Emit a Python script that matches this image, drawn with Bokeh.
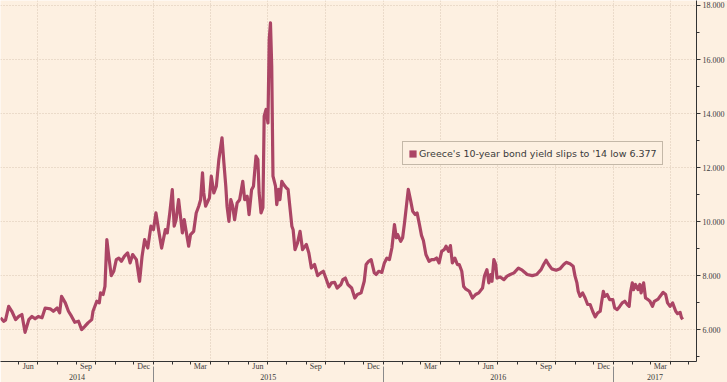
import pandas as pd
from bokeh.plotting import figure
from bokeh.models import (Range1d, FixedTicker, LinearAxis, NumeralTickFormatter,
                          Legend, LegendItem, Label, ColumnDataSource, Grid)
from bokeh.embed import file_html
from bokeh.resources import INLINE

# ---------------- data ----------------
dates = [
    "2014-05-03", "2014-05-08", "2014-05-11", "2014-05-16", "2014-05-21", "2014-05-27",
    "2014-06-01", "2014-06-06", "2014-06-11", "2014-06-17", "2014-06-22", "2014-06-27",
    "2014-07-02", "2014-07-08", "2014-07-13", "2014-07-21", "2014-07-26", "2014-08-01",
    "2014-08-05", "2014-08-08", "2014-08-14", "2014-08-19", "2014-08-24", "2014-08-29",
    "2014-09-04", "2014-09-09", "2014-09-14", "2014-09-19", "2014-09-25", "2014-09-27",
    "2014-10-03", "2014-10-07", "2014-10-09", "2014-10-13", "2014-10-16", "2014-10-19",
    "2014-10-22", "2014-10-26", "2014-10-30", "2014-11-03", "2014-11-07", "2014-11-11",
    "2014-11-16", "2014-11-21", "2014-11-25", "2014-11-29", "2014-12-05", "2014-12-10",
    "2014-12-14", "2014-12-18", "2014-12-23", "2014-12-28",
    "2015-01-01", "2015-01-05", "2015-01-10", "2015-01-14", "2015-01-20", "2015-01-23",
    "2015-01-27", "2015-01-31", "2015-02-03", "2015-02-06", "2015-02-10", "2015-02-13",
    "2015-02-16", "2015-02-19", "2015-02-22", "2015-02-26", "2015-03-01", "2015-03-06",
    "2015-03-10", "2015-03-14", "2015-03-17", "2015-03-20", "2015-03-22", "2015-03-25",
    "2015-03-31", "2015-04-03", "2015-04-07", "2015-04-11", "2015-04-15", "2015-04-20",
    "2015-04-23", "2015-04-26", "2015-04-28", "2015-05-01", "2015-05-04", "2015-05-07",
    "2015-05-10", "2015-05-14", "2015-05-18", "2015-05-23", "2015-05-26", "2015-05-30",
    "2015-06-02", "2015-06-06", "2015-06-09", "2015-06-13", "2015-06-16", "2015-06-18",
    "2015-06-21", "2015-06-24", "2015-06-26", "2015-06-29", "2015-07-02", "2015-07-04",
    "2015-07-06", "2015-07-08", "2015-07-10", "2015-07-14", "2015-07-16", "2015-07-19",
    "2015-07-21", "2015-07-24", "2015-07-27", "2015-07-31", "2015-08-03", "2015-08-09",
    "2015-08-11", "2015-08-14", "2015-08-18", "2015-08-22", "2015-08-26", "2015-08-30",
    "2015-09-01", "2015-09-05", "2015-09-09", "2015-09-14", "2015-09-19", "2015-09-24",
    "2015-09-28", "2015-10-02", "2015-10-07", "2015-10-11", "2015-10-16", "2015-10-20",
    "2015-10-26", "2015-10-29", "2015-11-02", "2015-11-06", "2015-11-12", "2015-11-17",
    "2015-11-21", "2015-11-27", "2015-12-02", "2015-12-05", "2015-12-09", "2015-12-13",
    "2015-12-18", "2015-12-21", "2015-12-25", "2015-12-30",
    "2016-01-03", "2016-01-07", "2016-01-11", "2016-01-15", "2016-01-19", "2016-01-22",
    "2016-01-24", "2016-01-29", "2016-02-01", "2016-02-04", "2016-02-07", "2016-02-10",
    "2016-02-14", "2016-02-17", "2016-02-21", "2016-02-24", "2016-02-28", "2016-03-02",
    "2016-03-05", "2016-03-09", "2016-03-14", "2016-03-18", "2016-03-22", "2016-03-26",
    "2016-03-30", "2016-04-03", "2016-04-07", "2016-04-10", "2016-04-14", "2016-04-17",
    "2016-04-20", "2016-04-24", "2016-04-28", "2016-05-01", "2016-05-05", "2016-05-08",
    "2016-05-11", "2016-05-17", "2016-05-22", "2016-05-27", "2016-06-01", "2016-06-07",
    "2016-06-10", "2016-06-14", "2016-06-17", "2016-06-20", "2016-06-22", "2016-06-25",
    "2016-06-28", "2016-06-30", "2016-07-05", "2016-07-11", "2016-07-16", "2016-07-21",
    "2016-07-27", "2016-08-03", "2016-08-09", "2016-08-17", "2016-08-25", "2016-09-01",
    "2016-09-08", "2016-09-12", "2016-09-16", "2016-09-20", "2016-09-25", "2016-10-02",
    "2016-10-08", "2016-10-14", "2016-10-18", "2016-10-24", "2016-10-29", "2016-11-01",
    "2016-11-04", "2016-11-06", "2016-11-09", "2016-11-13", "2016-11-17", "2016-11-21",
    "2016-11-25", "2016-11-29", "2016-12-03", "2016-12-07", "2016-12-11", "2016-12-13",
    "2016-12-16", "2016-12-18", "2016-12-22", "2016-12-26", "2016-12-31",
    "2017-01-03", "2017-01-07", "2017-01-11", "2017-01-15", "2017-01-19", "2017-01-23",
    "2017-01-26", "2017-01-28", "2017-01-31", "2017-02-02", "2017-02-05", "2017-02-09",
    "2017-02-12", "2017-02-14", "2017-02-18", "2017-02-21", "2017-02-25", "2017-02-28",
    "2017-03-04", "2017-03-07", "2017-03-13", "2017-03-16", "2017-03-21", "2017-03-25",
    "2017-03-28", "2017-04-01", "2017-04-05", "2017-04-10", "2017-04-13", "2017-04-17",
    "2017-04-19", "2017-04-21",
]
yields = [
    6.44, 6.31, 6.35, 6.86, 6.68, 6.37,
    6.49, 6.56, 5.90, 6.37, 6.49, 6.40,
    6.49, 6.44, 6.80, 6.77, 6.68, 6.80,
    6.62, 7.23, 6.99, 6.68, 6.49, 6.27,
    6.31, 6.00, 6.12, 6.25, 6.37, 6.68,
    7.05, 6.99, 7.36, 7.30, 7.60, 9.33,
    8.72, 8.00, 8.16, 8.59, 8.65, 8.53,
    8.72, 8.84, 8.47, 8.78, 8.59, 7.79,
    8.72, 9.33, 9.02, 9.83,
    9.70, 10.32, 9.58, 9.02, 9.70, 9.58,
    10.32, 11.18, 9.83, 10.07, 10.81, 10.20,
    9.58, 10.07, 9.64, 9.09, 9.52, 9.64,
    10.32, 10.57, 10.81, 11.80, 11.06, 10.57,
    10.88, 11.68, 11.06, 11.31, 12.30, 13.10,
    12.17, 11.31, 10.57, 10.01, 10.81, 10.57,
    10.07, 10.69, 10.81, 11.49, 10.81, 10.94,
    10.26, 11.18, 11.31, 12.42, 12.30, 11.06,
    10.32, 10.51, 13.90, 14.15, 13.65, 16.74,
    17.36, 15.75, 11.68, 11.31, 10.63, 11.19,
    10.81, 11.49, 11.37, 11.25, 11.19, 9.83,
    9.70, 8.96, 9.21, 9.64, 8.96, 9.09,
    9.15, 8.84, 8.28, 8.41, 8.00, 8.10,
    8.16, 7.91, 7.58, 7.73, 7.75, 7.54,
    7.67, 7.85, 7.91, 7.67, 7.54, 7.17,
    7.30, 7.36, 7.79, 8.41, 8.53, 8.59,
    8.10, 8.04, 8.16, 8.12,
    8.47, 8.65, 8.59, 9.03, 9.89, 9.40,
    9.52, 9.27, 9.40, 9.95, 10.57, 11.19,
    10.75, 10.38, 10.26, 10.32, 9.86, 9.49,
    9.30, 8.78, 8.53, 8.59, 8.59, 8.65,
    8.47, 8.90, 8.96, 9.09, 8.90, 9.11,
    8.47, 8.65, 8.41, 8.41, 8.16, 7.60,
    7.51, 7.42, 7.17, 7.30, 7.36, 7.54,
    7.98, 8.22, 7.73, 8.04, 7.79, 8.59,
    8.41, 7.91, 7.95, 7.85, 7.98, 8.04,
    8.10, 8.28, 8.20, 8.04, 8.00, 8.04,
    8.22, 8.41, 8.57, 8.41, 8.25, 8.20,
    8.25, 8.41, 8.49, 8.44, 8.35, 7.98,
    7.73, 7.42, 7.23, 7.36, 7.17, 6.93,
    6.93, 6.68, 6.47, 6.62, 6.68, 6.99,
    7.42, 7.23, 7.30, 7.11, 7.11,
    6.80, 6.74, 6.86, 6.99, 7.05, 6.93,
    6.86, 7.36, 7.73, 7.48, 7.67, 7.48,
    7.67, 7.36, 7.73, 7.17, 7.11, 7.05,
    6.86, 7.05, 7.13, 7.23, 7.38, 7.30,
    6.99, 6.86, 6.99, 6.68, 6.59, 6.64,
    6.45, 6.377,
]
last_label = "6.377"
legend_label = "Greece's 10-year bond yield slips to '14 low 6.377"
x_start, x_end = "2014-05-03", "2017-05-13"
y_ticks = [6, 8, 10, 12, 14, 16, 18]
y_minor = [5, 7, 9, 11, 13, 15, 17]
month_labels = {6: "Jun", 9: "Sep", 12: "Dec", 3: "Mar"}
years = [2014, 2015, 2016, 2017]

# ---------------- styles ----------------
BG = "#FDF0E1"
LINE = "#AB4565"
AXIS = "#333333"
TXT = "#3a3a3a"
GRID = "#d8c6b2"
SERIF = "Liberation Serif"


def ms(t):
    return int(pd.Timestamp(t).value // 10**6)


x0, x1 = ms(x_start), ms(x_end)
month_starts = pd.date_range("2014-05-01", "2017-06-01", freq="MS")
month_ticks = [ms(m) for m in month_starts if x0 <= ms(m) <= x1]
label_ticks, month_over = [], {}
for m in month_starts[:-1]:
    if m.month in month_labels:
        mid = (ms(m) + ms(m + pd.offsets.MonthBegin(1))) // 2
        if x0 <= mid <= x1:
            label_ticks.append(mid)
            month_over[mid] = month_labels[m.month]
quarter_ticks = [ms(m) for m in month_starts if m.month in (1, 4, 7, 10) and x0 < ms(m) < x1]
year_starts = [ms(f"{y}-01-01") for y in years if x0 < ms(f"{y}-01-01") < x1]
year_centers, year_over = [], {}
for y in years:
    a = max(ms(f"{y}-01-01"), x0)
    b = min(ms(f"{y + 1}-01-01"), x1)
    c = (a + b) // 2
    year_centers.append(c)
    year_over[c] = str(y)

src = ColumnDataSource(dict(date=[ms(d) for d in dates], yld=yields))

p = figure(width=727, height=382, x_axis_type=None, y_axis_location="right",
           x_range=Range1d(x0, x1), y_range=Range1d(4.82, 18.185),
           output_backend="svg", toolbar_location=None, min_border=0,
           background_fill_color=BG, border_fill_color=BG)
p.outline_line_color = None

# right y axis
ya = p.yaxis[0]
ya.ticker = FixedTicker(ticks=y_ticks, minor_ticks=y_minor)
ya.formatter = NumeralTickFormatter(format="0.000")
ya.axis_line_color = AXIS
ya.major_tick_line_color = AXIS
ya.minor_tick_line_color = AXIS
ya.major_tick_in = 0
ya.major_tick_out = 4
ya.minor_tick_in = 0
ya.minor_tick_out = 3
ya.major_label_standoff = 2
ya.major_label_text_font = SERIF
ya.major_label_text_font_size = "8px"
ya.major_label_text_color = TXT

p.ygrid.grid_line_color = GRID
p.ygrid.grid_line_dash = "1 2"
p.add_layout(Grid(dimension=0, ticker=FixedTicker(ticks=quarter_ticks),
                  grid_line_color=GRID, grid_line_dash="1 2"))

# month axis
ax_m = LinearAxis(ticker=FixedTicker(ticks=label_ticks, minor_ticks=month_ticks),
                  major_label_overrides=month_over,
                  major_tick_in=0, major_tick_out=0,
                  minor_tick_in=0, minor_tick_out=3,
                  axis_line_color=AXIS, minor_tick_line_color=AXIS,
                  major_label_standoff=-3,
                  major_label_text_font=SERIF, major_label_text_font_size="8px",
                  major_label_text_color=TXT)
p.add_layout(ax_m, "below")

# year axis
ax_y = LinearAxis(ticker=FixedTicker(ticks=year_centers, minor_ticks=year_starts),
                  major_label_overrides=year_over,
                  major_tick_in=0, major_tick_out=0,
                  minor_tick_in=7, minor_tick_out=12,
                  axis_line_color=None, minor_tick_line_color="#8a8a8a",
                  major_label_standoff=-12,
                  major_label_text_font=SERIF, major_label_text_font_size="8px",
                  major_label_text_color=TXT)
p.add_layout(ax_y, "below")

p.line(x="date", y="yld", source=src, line_color=LINE, line_width=3.2, line_join="round")

# zero-size quads (invisible) only to give the legend a filled square glyph
sq = p.quad(left="date", right="date", top="yld", bottom="yld", source=src,
            fill_color=LINE, line_color=None)
legend = Legend(items=[LegendItem(label=legend_label, renderers=[sq])],
                location=(402, 196), margin=0, padding=5, spacing=0,
                border_line_color="#8c7f70", border_line_width=1,
                background_fill_color=BG, background_fill_alpha=1,
                glyph_width=9, glyph_height=9, label_height=12, label_standoff=2,
                label_text_font="DejaVu Sans", label_text_font_size="9.5px",
                label_text_color=TXT)
p.add_layout(legend)

tag = Label(x=x1, y=yields[-1], x_offset=4, text=last_label,
            text_font=SERIF, text_font_size="9px", text_color="white",
            text_align="left", text_baseline="middle",
            background_fill_color=LINE, padding=2)
p.add_layout(tag)

open("out.html", "w").write(file_html(p, INLINE))
